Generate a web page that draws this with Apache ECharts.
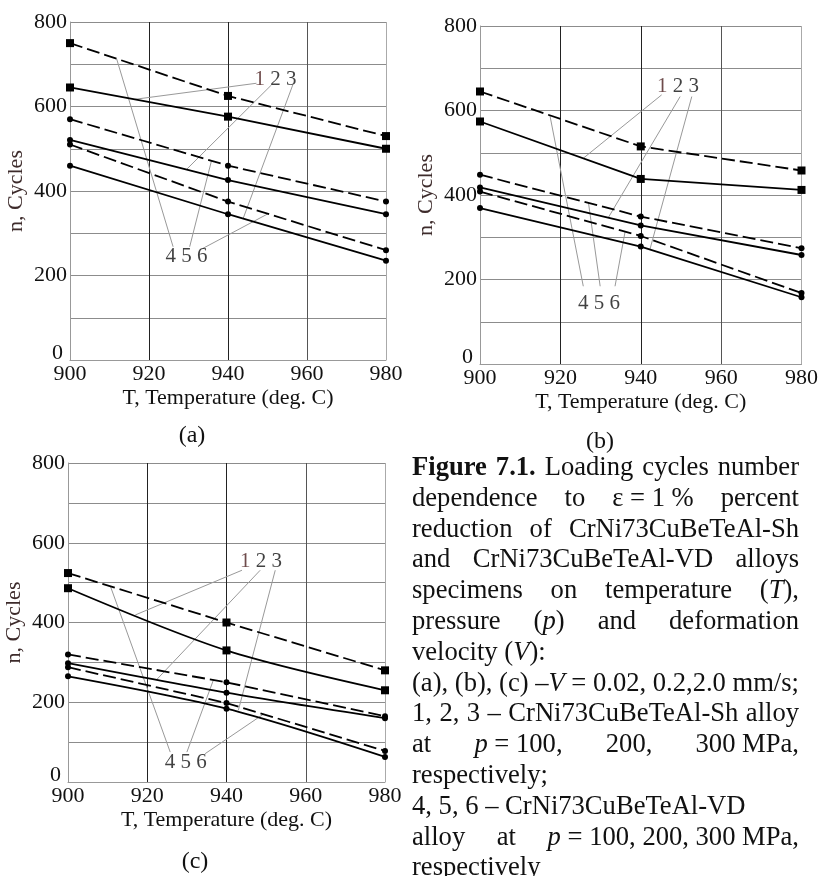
<!DOCTYPE html>
<html>
<head>
<meta charset="utf-8">
<script src="https://cdn.jsdelivr.net/npm/echarts@6/dist/echarts.min.js"></script>
<style>
    html, body {margin: 0; padding: 0; background: #fff;}
    #main {width: 821px; height: 876px;}
</style>
</head>
<body>
<div id="main"></div>
<script>
// temperatures, deg. C
var temps = [900, 940, 980]
var yTicks = [0, 200, 400, 600, 800]

// (a) V = 0.02 mm/s ; 1,2,3 - Sh alloy, 4,5,6 - VD alloy (p = 100, 200, 300 MPa)
var a1 = [645, 576, 500]
var a2 = [521, 426, 345]
var a3 = [460, 345, 235]
var a4 = [750, 625, 530]
var a5 = [570, 460, 375]
var a6 = [510, 375, 260]

// (b) V = 0.2 mm/s
var b1 = [574, 438, 412]
var b2 = [418, 328, 258]
var b3 = [369, 278, 158]
var b4 = [645, 515, 458]
var b5 = [448, 349, 274]
var b6 = [408, 303, 168]

// (c) V = 2.0 mm/s
var c1 = [486, 330, 230]
var c2 = [298, 224, 160]
var c3 = [265, 184, 63]
var c4 = [524, 400, 280]
var c5 = [320, 250, 165]
var c6 = [288, 198, 78]

// number labels (T, n) and leader lines: [label end, point on curve]
var aLabel123 = [952, 664]
var aLabel456 = [929.5, 245]
var aLeaders = [
    [[947.2, 655], [916.4, 617]], [[951, 651], [929.5, 451]], [[956.4, 651], [943.8, 334]],
    [[926.1, 268], [911.8, 713]], [[930.3, 268], [935.8, 471]], [[933.6, 264], [950.1, 346]]
]
var bLabel123 = [949.3, 656]
var bLabel456 = [929.6, 144]
var bLeaders = [
    [[945.2, 637], [925.7, 487]], [[949.8, 633], [931.9, 346]], [[952.7, 633], [942.3, 272]],
    [[925.7, 184], [917.4, 588]], [[929.9, 184], [927, 381]], [[933.6, 184], [936.1, 313]]
]
var cLabel123 = [948.7, 552]
var cLabel456 = [929.7, 50]
var cLeaders = [
    [[943.9, 531], [917, 419]], [[948.5, 531], [922.4, 257]], [[952.3, 531], [943, 180]],
    [[925.8, 75], [910.7, 491]], [[930, 75], [936.7, 256]], [[934.6, 71], [949.3, 170]]
]

var subLabels = ['(a)', '(b)', '(c)']

// caption, one array of words per printed line
var caption = [
    {words: ['{b|Figure}', '{b|7.1.}', 'Loading', 'cycles', 'number'], justify: true},
    {words: ['dependence', 'to', 'ε = 1 %', 'percent'], justify: true},
    {words: ['reduction', 'of', 'CrNi73CuBeTeAl-Sh'], justify: true},
    {words: ['and', 'CrNi73CuBeTeAl-VD', 'alloys'], justify: true},
    {words: ['specimens', 'on', 'temperature', '({i|T}),'], justify: true},
    {words: ['pressure', '({i|p})', 'and', 'deformation'], justify: true},
    {words: ['velocity', '({i|V}):'], justify: false},
    {words: ['(a),', '(b),', '(c)', '–{i|V}', '=', '0.02,', '0.2,2.0', 'mm/s;'], justify: true},
    {words: ['1,', '2,', '3', '–', 'CrNi73CuBeTeAl-Sh', 'alloy'], justify: true},
    {words: ['at', '{i|p} = 100,', '200,', '300 MPa,'], justify: true},
    {words: ['respectively;'], justify: false},
    {words: ['4,', '5,', '6', '–', 'CrNi73CuBeTeAl-VD'], justify: false},
    {words: ['alloy', 'at', '{i|p} = 100, 200, 300 MPa,'], justify: true},
    {words: ['respectively'], justify: false}
]

var FONT = 'Liberation Serif'
var CAP = 26.6

var grids = [
    {left: 70, top: 22, width: 316, height: 338},
    {left: 480, top: 26, width: 322, height: 338},
    {left: 68, top: 463, width: 317, height: 319}
]

function makeX(i) {
    return {
        type: 'value', gridIndex: i, min: 900, max: 980, interval: 20,
        axisLine: {show: true, lineStyle: {color: '#999', width: 1}},
        axisTick: {show: false},
        axisLabel: {fontFamily: FONT, fontSize: 22, color: '#111', margin: 3},
        splitLine: {show: true, lineStyle: {color: ['#999', '#222', '#222', '#555', '#aaa'], width: 1}},
        name: 'T, Temperature (deg. C)', nameLocation: 'middle', nameGap: 27,
        nameTextStyle: {fontFamily: FONT, fontSize: 22, color: '#111'}
    }
}

function makeY(i) {
    return {
        type: 'value', gridIndex: i, min: 0, max: 800, interval: 100,
        axisLine: {show: true, lineStyle: {color: '#999', width: 1}},
        axisTick: {show: false},
        axisLabel: {
            fontFamily: FONT, fontSize: 22, color: '#111', margin: 3,
            formatter: function (v) {
                if (yTicks.indexOf(v) < 0) return ''
                return v === 0 ? '{z|0}' : String(v)
            },
            rich: {z: {fontFamily: FONT, fontSize: 22, color: '#111', padding: [0, 4, 14, 0]}}
        },
        splitLine: {show: true, lineStyle: {color: '#8c8c8c', width: 1}},
        name: 'n, Cycles', nameLocation: 'middle', nameGap: 43,
        nameTextStyle: {fontFamily: FONT, fontSize: 22, color: '#3d2b2b'}
    }
}

function curve(i, values, dashed, square, smooth) {
    return {
        type: 'line', xAxisIndex: i, yAxisIndex: i,
        data: temps.map(function (t, k) { return [t, values[k]] }),
        symbol: square ? 'rect' : 'circle',
        symbolSize: square ? 8 : 6,
        smooth: smooth ? 0.3 : false,
        lineStyle: {color: '#000', width: 1.8, type: dashed ? [13, 5] : 'solid'},
        itemStyle: {color: '#000'},
        silent: true, z: 3
    }
}

function leaders(i, list) {
    return {
        type: 'lines', coordinateSystem: 'cartesian2d', xAxisIndex: i, yAxisIndex: i,
        polyline: false, silent: true, z: 1,
        lineStyle: {color: '#999', width: 1, opacity: 1},
        data: list.map(function (l) { return {coords: l} })
    }
}

function numLabel(i, pos, text) {
    return {
        type: 'scatter', xAxisIndex: i, yAxisIndex: i, data: [pos],
        symbolSize: 1, itemStyle: {color: 'transparent'}, silent: true, z: 4,
        label: {
            show: true, position: 'inside', formatter: text,
            fontFamily: FONT, fontSize: 21, color: '#111',
            rich: {m: {fontFamily: FONT, fontSize: 21, color: '#4a1e1e'}}
        }
    }
}

var series = []
var sets = [[a1, a2, a3, a4, a5, a6], [b1, b2, b3, b4, b5, b6], [c1, c2, c3, c4, c5, c6]]
var leaderSets = [aLeaders, bLeaders, cLeaders]
var label123 = [aLabel123, bLabel123, cLabel123]
var label456 = [aLabel456, bLabel456, cLabel456]
for (var g = 0; g < 3; g++) {
    var s = sets[g]
    var sm = g == 2
    series.push(leaders(g, leaderSets[g]))
    series.push(curve(g, s[0], false, true, sm))
    series.push(curve(g, s[1], false, false, sm))
    series.push(curve(g, s[2], false, false, sm))
    series.push(curve(g, s[3], true, true, false))
    series.push(curve(g, s[4], true, false, false))
    series.push(curve(g, s[5], true, false, false))
    series.push(numLabel(g, label123[g], '{m|1} 2 3'))
    series.push(numLabel(g, label456[g], '4 5 6'))
}

// caption layout (justified like the printed page)
var fonts = {
    n: CAP + 'px "' + FONT + '"',
    b: 'bold ' + CAP + 'px "' + FONT + '"',
    i: 'italic ' + CAP + 'px "' + FONT + '"'
}
var ctx = document.createElement('canvas').getContext('2d')
function measure(word) {
    var re = /\{(\w+)\|([^}]*)\}|([^{]+)/g, m, w = 0
    while ((m = re.exec(word))) {
        ctx.font = fonts[m[1] || 'n']
        w += ctx.measureText(m[1] ? m[2] : m[3]).width
    }
    return w
}
var richCap = {
    b: {fontFamily: FONT, fontSize: CAP, fontWeight: 'bold', fill: '#111'},
    i: {fontFamily: FONT, fontSize: CAP, fontStyle: 'italic', fill: '#111'}
}
function capText(x, y, text) {
    return {
        type: 'text', x: x, y: y, silent: true,
        style: {text: text, fontFamily: FONT, fontSize: CAP, fill: '#111', align: 'left', verticalAlign: 'middle', rich: richCap}
    }
}

var graphics = []
var capLeft = 412, capRight = 799, capTop = 468, capStep = 30.8
for (var li = 0; li < caption.length; li++) {
    var line = caption[li]
    var y = capTop + li * capStep
    if (!line.justify || line.words.length < 2) {
        graphics.push(capText(capLeft, y, line.words.join(' ')))
        continue
    }
    var widths = line.words.map(measure)
    var total = widths.reduce(function (p, c) { return p + c }, 0)
    var gap = (capRight - capLeft - total) / (line.words.length - 1)
    var x = capLeft
    for (var wi = 0; wi < line.words.length; wi++) {
        graphics.push(capText(x, y, line.words[wi]))
        x += widths[wi] + gap
    }
}

// (a) (b) (c)
var subPos = [[192, 436], [600, 442], [195, 862]]
for (var k = 0; k < 3; k++) {
    graphics.push({
        type: 'text', x: subPos[k][0], y: subPos[k][1], silent: true,
        style: {text: subLabels[k], fontFamily: FONT, fontSize: 24, fill: '#111', align: 'center', verticalAlign: 'middle'}
    })
}

var myChart = echarts.init(document.getElementById('main'), null, {renderer: 'canvas'})
myChart.setOption({
    animation: false,
    backgroundColor: '#fff',
    grid: grids,
    xAxis: [makeX(0), makeX(1), makeX(2)],
    yAxis: [makeY(0), makeY(1), makeY(2)],
    series: series,
    graphic: graphics
})
</script>
</body>
</html>
